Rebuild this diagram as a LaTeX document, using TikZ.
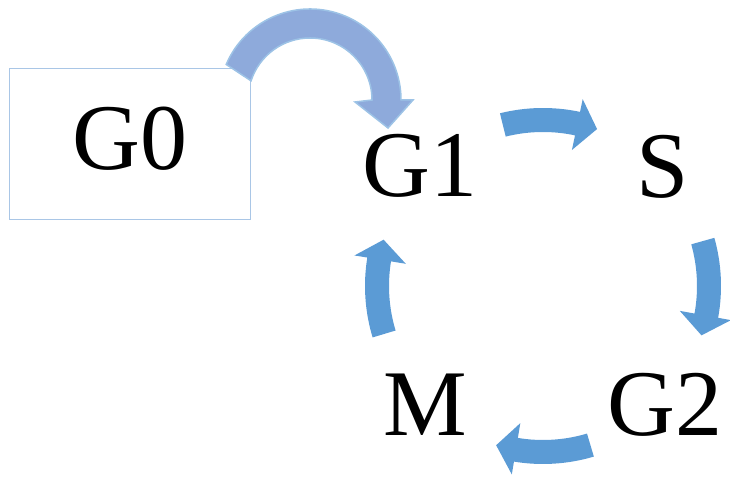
\documentclass[tikz,border=0pt]{standalone}
\usepackage{fontspec}
\setmainfont{Liberation Serif}
\usetikzlibrary{calc}
\definecolor{boxline}{HTML}{A9C6E6}
\definecolor{bigfill}{HTML}{8EAADB}
\definecolor{bigline}{HTML}{9DC3E6}
\definecolor{cycfill}{HTML}{5B9BD5}
\begin{document}
\begin{tikzpicture}[x=1pt,y=1pt,
  lbl/.style={inner sep=0pt, anchor=base, font=\fontsize{94}{94}\selectfont},
  gbox/.style={draw=boxline, line width=1pt, minimum width=241pt, minimum height=151pt, inner sep=0pt},
  bigarrow/.style={fill=bigfill, draw=bigline, line width=1.5pt, line join=miter},
  cycarrow/.style={fill=cycfill}]
\useasboundingbox (0,0) rectangle (730,479);
% G0 box and labels
\node[gbox] (g0box) at (129.5,334.5) {};
\node[lbl] (g0) at (130,309) {G0};
\node[lbl] (g1) at (420,282) {G1};
\node[lbl] (s) at (662.5,281) {S};
\node[lbl] (g2) at (665,44) {G2};
\node[lbl] (m) at (425,44) {M};
% big curved arrow G0 -> G1
\coordinate (bc) at (310,379);
\path[bigarrow] (bc) ++(157:91pt) arc[start angle=157, end angle=0, radius=91pt]
  -- (413,379) -- (388,351) -- (355,377) -- (372,379)
  arc[start angle=0, end angle=162, radius=62pt] -- cycle;
% cycle arrows
\coordinate (cc) at (543,193);
\foreach \a in {104,15.7,-73.4,196.8}{
  \fill[cycarrow] (cc) ++(\a:178pt) arc[start angle=\a, end angle=\a-26, radius=178pt]
    -- ($(cc)+(\a-26:191pt)$) -- ($(cc)+(\a-33:166pt)$) -- ($(cc)+(\a-26:139pt)$)
    -- ($(cc)+(\a-26:154pt)$) arc[start angle=\a-26, end angle=\a, radius=154pt] -- cycle;
}
\end{tikzpicture}
\end{document}
